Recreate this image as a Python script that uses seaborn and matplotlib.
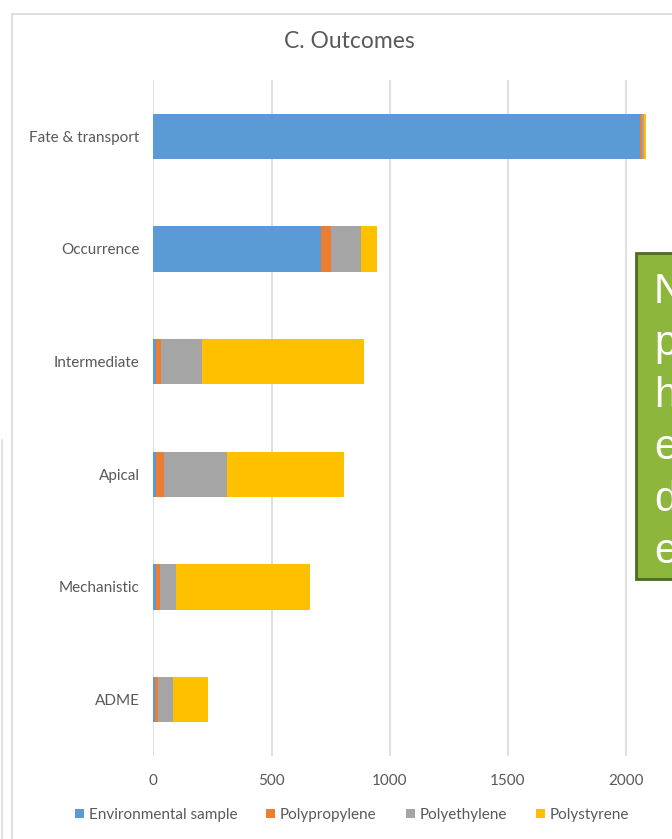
import matplotlib
matplotlib.use("Agg")
import matplotlib.pyplot as plt
import seaborn as sns
import pandas as pd
import numpy as np
from matplotlib.patches import Rectangle, Patch
from matplotlib.lines import Line2D

# Study counts by outcome category and particle type
categories = ["Fate & transport", "Occurrence", "Intermediate", "Apical", "Mechanistic", "ADME"]
series_names = ["Environmental sample", "Polypropylene", "Polyethylene", "Polystyrene"]
environmental_sample = [2059, 708, 12, 10, 9, 8]
polypropylene = [9, 43, 22, 34, 20, 12]
polyethylene = [10, 126, 172, 268, 65, 62]
polystyrene = [9, 70, 685, 496, 570, 149]
x_ticks = [0, 500, 1000, 1500, 2000]

# first letters of each line in the callout box
callout_letters = ["N", "p", "h", "e", "d", "e"]

colors = ["#5B9BD5", "#ED7D31", "#A5A5A5", "#FFC000"]

W, H, DPI = 672, 839, 100
sns.set_theme(style="white")
plt.rcParams["font.family"] = ["Lato", "DejaVu Sans"]

fig = plt.figure(figsize=(W / DPI, H / DPI), dpi=DPI)
fig.patch.set_facecolor("white")

def fx(px):
    return px / W

def fy(py):
    return 1 - py / H

# chart frame
fig.add_artist(Line2D([fx(12), fx(12)], [fy(14), 0], color="#D9D9D9", lw=1.2,
                      transform=fig.transFigure))
fig.add_artist(Line2D([fx(12), 1.0], [fy(14), fy(14)], color="#D9D9D9", lw=1.2,
                      transform=fig.transFigure))
# edge of a neighbouring panel
fig.add_artist(Line2D([fx(1.5), fx(1.5)], [fy(440), 0], color="#E3E3E3", lw=1.5,
                      transform=fig.transFigure))

left_px, right_px = 153.4, 153.4 + 5 * 118.1
top_px, bottom_px = 80, 756
ax = fig.add_axes([fx(left_px), fy(bottom_px), (right_px - left_px) / W,
                   (bottom_px - top_px) / H])

df = pd.DataFrame({
    "category": categories,
    "Environmental sample": environmental_sample,
    "Polypropylene": polypropylene,
    "Polyethylene": polyethylene,
    "Polystyrene": polystyrene,
})
cum = df[series_names].cumsum(axis=1)

# stacked bars drawn as overlapping cumulative totals, outermost first
for name, color in reversed(list(zip(series_names, colors))):
    sns.barplot(x=cum[name], y=df["category"], color=color, width=0.4,
                orient="h", ax=ax, saturation=1, edgecolor="none", linewidth=0)

ax.set_xlim(0, 2500)
ax.set_xticks(x_ticks)
ax.set_xticklabels([str(t) for t in x_ticks])
ax.set_xlabel("")
ax.set_ylabel("")
ax.grid(axis="x", color="#D9D9D9", lw=1.2)
ax.set_axisbelow(True)
for s in ax.spines.values():
    s.set_visible(False)
ax.tick_params(axis="both", length=0, colors="#595959", labelsize=11)
ax.tick_params(axis="x", pad=13)
ax.tick_params(axis="y", pad=10)

fig.text(fx(349), fy(42), "C. Outcomes", ha="center", va="center",
         fontsize=16.5, color="#595959")

handles = [Patch(facecolor=c, edgecolor="none") for c in colors]
fig.legend(handles, series_names, loc="center", bbox_to_anchor=(fx(352), fy(815)),
           ncol=4, frameon=False, fontsize=11, labelcolor="#595959",
           handlelength=0.6, handleheight=0.6, handletextpad=0.3,
           columnspacing=1.9)

# green callout box at the right edge
fig.add_artist(Rectangle((fx(636), fy(579)), fx(60), (579 - 253) / H,
                         facecolor="#8DB63C", edgecolor="#4E6B1F", lw=2,
                         transform=fig.transFigure))
for i, letter in enumerate(callout_letters):
    fig.text(fx(654), fy(303 + 52 * i), letter, ha="left", va="baseline",
             fontsize=30, color="white",
             family=["Liberation Sans", "DejaVu Sans"])

fig.savefig("out.png", dpi=DPI, facecolor="white")
